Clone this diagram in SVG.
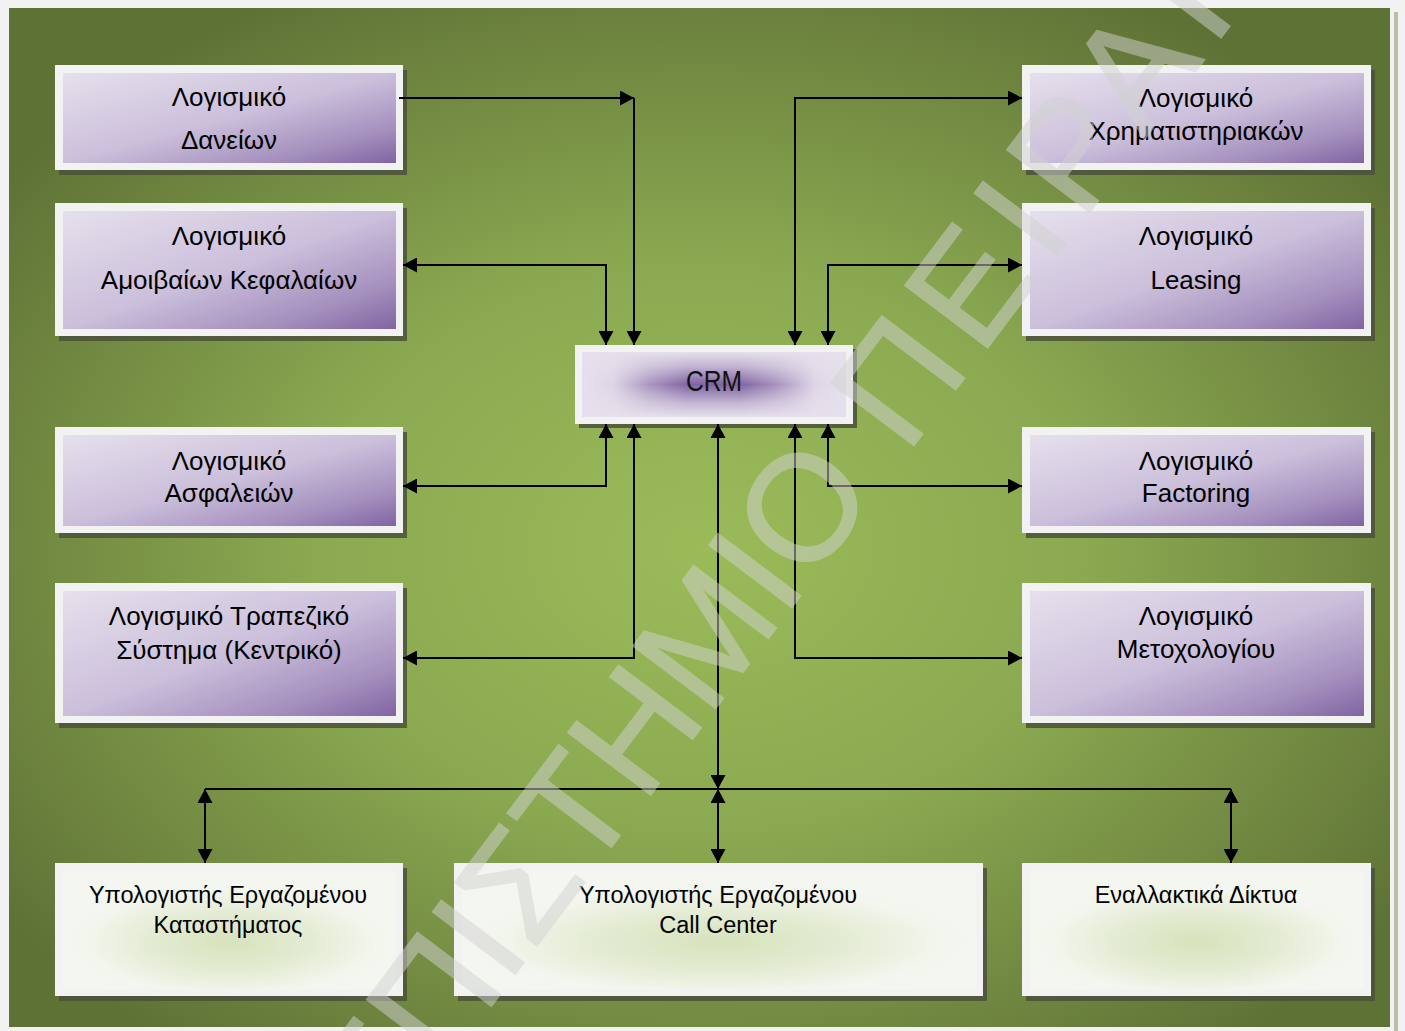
<svg xmlns="http://www.w3.org/2000/svg" width="1405" height="1031" viewBox="0 0 1405 1031">
  <style>
    .lbl{font-family:"Liberation Sans",Arial,sans-serif;font-size:26px;fill:#000;text-anchor:middle}
    .sm{font-size:23.5px}
    .crm{font-family:"Liberation Sans Narrow","Liberation Sans",Arial,sans-serif;font-size:30px;fill:#111;text-anchor:middle}
    .frame{fill:#f2f2f2}
    .shadow{fill:#4b5139;opacity:.85}
    .conn{fill:none;stroke:#000;stroke-width:2}
    .both{marker-start:url(#arr);marker-end:url(#arr)}
    .end{marker-end:url(#arr)}
    .wm{font-family:"Liberation Sans",Arial,sans-serif;font-size:150px;fill:#d2d2d2;stroke:#d2d2d2;stroke-width:2}
  </style>
  <defs>
    <radialGradient id="gPanel" cx="0.5" cy="0.53" r="0.62">
      <stop offset="0" stop-color="#9bbb59"/>
      <stop offset="0.45" stop-color="#8ba951"/>
      <stop offset="1" stop-color="#5f7236"/>
    </radialGradient>
    <linearGradient id="gPurple" x1="0" y1="0" x2="1" y2="1">
      <stop offset="0" stop-color="#e6e0ec"/>
      <stop offset="0.5" stop-color="#cbbfdb"/>
      <stop offset="0.8" stop-color="#a590be"/>
      <stop offset="1" stop-color="#8064a2"/>
    </linearGradient>
    <linearGradient id="gCrmH" x1="0" y1="0" x2="1" y2="0">
      <stop offset="0" stop-color="#e6e0ec"/>
      <stop offset="0.12" stop-color="#ddd5e6"/>
      <stop offset="0.26" stop-color="#a994c0"/>
      <stop offset="0.4" stop-color="#8064a2"/>
      <stop offset="0.6" stop-color="#8064a2"/>
      <stop offset="0.74" stop-color="#a994c0"/>
      <stop offset="0.88" stop-color="#ddd5e6"/>
      <stop offset="1" stop-color="#e6e0ec"/>
    </linearGradient>
    <linearGradient id="gCrmV" x1="0" y1="0" x2="0" y2="1">
      <stop offset="0" stop-color="#e6e0ec" stop-opacity="1"/>
      <stop offset="0.22" stop-color="#e6e0ec" stop-opacity="0.65"/>
      <stop offset="0.5" stop-color="#e6e0ec" stop-opacity="0"/>
      <stop offset="0.78" stop-color="#e6e0ec" stop-opacity="0.65"/>
      <stop offset="1" stop-color="#e6e0ec" stop-opacity="1"/>
    </linearGradient>
    <radialGradient id="gLight" cx="0.5" cy="0.6" r="0.52">
      <stop offset="0" stop-color="#d6e3bc"/>
      <stop offset="0.45" stop-color="#e3ebd2"/>
      <stop offset="0.85" stop-color="#f3f6ee"/>
      <stop offset="1" stop-color="#f4f7f0"/>
    </radialGradient>
    <marker id="arr" viewBox="0 0 14 15" refX="14" refY="7.5" markerWidth="14" markerHeight="15" markerUnits="userSpaceOnUse" orient="auto-start-reverse">
      <path d="M0,0 L14,7.5 L0,15 z" fill="#000"/>
    </marker>
  </defs>

  <!-- page and green panel -->
  <rect x="0" y="0" width="1405" height="1031" fill="#f2f2f2"/>
  <rect x="1394" y="12" width="4" height="1019" fill="#b8c0aa"/>
  <rect x="9" y="8" width="1381" height="1019" fill="url(#gPanel)"/>

  <!-- left column -->
  <g id="n-daneion">
    <rect class="shadow" x="59" y="70" width="348" height="105"/>
    <rect class="frame" x="55" y="65" width="348" height="105"/>
    <rect x="63" y="73" width="333" height="90" fill="url(#gPurple)"/>
    <text class="lbl" x="229" y="106">Λογισμικό</text>
    <text class="lbl" x="229" y="149">Δανείων</text>
  </g>
  <g id="n-amoivaia">
    <rect class="shadow" x="59" y="208" width="348" height="133"/>
    <rect class="frame" x="55" y="203" width="348" height="133"/>
    <rect x="63" y="211" width="333" height="118" fill="url(#gPurple)"/>
    <text class="lbl" x="229" y="245">Λογισμικό</text>
    <text class="lbl" x="229" y="289">Αμοιβαίων Κεφαλαίων</text>
  </g>
  <g id="n-asfaleies">
    <rect class="shadow" x="59" y="432" width="348" height="106"/>
    <rect class="frame" x="55" y="427" width="348" height="106"/>
    <rect x="63" y="435" width="333" height="91" fill="url(#gPurple)"/>
    <text class="lbl" x="229" y="470">Λογισμικό</text>
    <text class="lbl" x="229" y="502">Ασφαλειών</text>
  </g>
  <g id="n-trapeziko">
    <rect class="shadow" x="59" y="588" width="348" height="140"/>
    <rect class="frame" x="55" y="583" width="348" height="140"/>
    <rect x="63" y="591" width="333" height="125" fill="url(#gPurple)"/>
    <text class="lbl" x="229" y="625">Λογισμικό Τραπεζικό</text>
    <text class="lbl" x="229" y="659">Σύστημα (Κεντρικό)</text>
  </g>

  <!-- right column -->
  <g id="n-xrimatistiriakon">
    <rect class="shadow" x="1026" y="70" width="349" height="105"/>
    <rect class="frame" x="1022" y="65" width="349" height="105"/>
    <rect x="1030" y="73" width="334" height="90" fill="url(#gPurple)"/>
    <text class="lbl" x="1196" y="107">Λογισμικό</text>
    <text class="lbl" x="1196" y="140">Χρηματιστηριακών</text>
  </g>
  <g id="n-leasing">
    <rect class="shadow" x="1026" y="208" width="349" height="133"/>
    <rect class="frame" x="1022" y="203" width="349" height="133"/>
    <rect x="1030" y="211" width="334" height="118" fill="url(#gPurple)"/>
    <text class="lbl" x="1196" y="245">Λογισμικό</text>
    <text class="lbl" x="1196" y="289">Leasing</text>
  </g>
  <g id="n-factoring">
    <rect class="shadow" x="1026" y="432" width="349" height="106"/>
    <rect class="frame" x="1022" y="427" width="349" height="106"/>
    <rect x="1030" y="435" width="334" height="91" fill="url(#gPurple)"/>
    <text class="lbl" x="1196" y="470">Λογισμικό</text>
    <text class="lbl" x="1196" y="502">Factoring</text>
  </g>
  <g id="n-metoxologio">
    <rect class="shadow" x="1026" y="588" width="349" height="140"/>
    <rect class="frame" x="1022" y="583" width="349" height="140"/>
    <rect x="1030" y="591" width="334" height="125" fill="url(#gPurple)"/>
    <text class="lbl" x="1196" y="625">Λογισμικό</text>
    <text class="lbl" x="1196" y="658">Μετοχολογίου</text>
  </g>

  <!-- central CRM -->
  <g id="n-crm">
    <rect class="shadow" x="579" y="349" width="278" height="79"/>
    <rect class="frame" x="575" y="345" width="278" height="79"/>
    <rect x="582" y="352" width="264" height="65" fill="url(#gCrmH)"/>
    <rect x="582" y="352" width="264" height="65" fill="url(#gCrmV)"/>
    <text class="crm" x="714" y="391" textLength="56" lengthAdjust="spacingAndGlyphs">CRM</text>
  </g>

  <!-- bottom row -->
  <g id="n-katastima">
    <rect class="shadow" x="59" y="868" width="348" height="133"/>
    <rect class="frame" x="55" y="863" width="348" height="133"/>
    <rect x="63" y="871" width="333" height="118" fill="url(#gLight)"/>
    <text class="lbl sm" x="228" y="903">Υπολογιστής Εργαζομένου</text>
    <text class="lbl sm" x="228" y="933">Καταστήματος</text>
  </g>
  <g id="n-callcenter">
    <rect class="shadow" x="458" y="868" width="529" height="133"/>
    <rect class="frame" x="454" y="863" width="529" height="133"/>
    <rect x="462" y="871" width="514" height="118" fill="url(#gLight)"/>
    <text class="lbl sm" x="718" y="903">Υπολογιστής Εργαζομένου</text>
    <text class="lbl sm" x="718" y="933">Call Center</text>
  </g>
  <g id="n-diktya">
    <rect class="shadow" x="1026" y="868" width="349" height="133"/>
    <rect class="frame" x="1022" y="863" width="349" height="133"/>
    <rect x="1030" y="871" width="334" height="118" fill="url(#gLight)"/>
    <text class="lbl sm" x="1196" y="903">Εναλλακτικά Δίκτυα</text>
  </g>

  <!-- connectors -->
  <g id="connectors">
    <path class="conn end" d="M399,98 H634"/>
    <path class="conn end" d="M634,98 V345"/>
    <path class="conn both" d="M606,345 V265 H403"/>
    <path class="conn both" d="M795,345 V98 H1022"/>
    <path class="conn both" d="M828,345 V265 H1022"/>
    <path class="conn both" d="M606,424 V486 H403"/>
    <path class="conn both" d="M634,424 V658 H403"/>
    <path class="conn both" d="M718,424 V789"/>
    <path class="conn both" d="M828,424 V486 H1022"/>
    <path class="conn both" d="M795,424 V658 H1022"/>
    <path class="conn" d="M205,789 H1231"/>
    <path class="conn both" d="M205,789 V863"/>
    <path class="conn both" d="M718,789 V863"/>
    <path class="conn both" d="M1231,789 V863"/>
  </g>

  <!-- diagonal watermark lettering -->
  <g id="watermark" opacity="0.5" transform="translate(800,505) rotate(-53)">
    <text class="wm" x="58" y="55" text-anchor="end">ΠΑΝΕΠΙΣΤΗΜΙΟ</text>
    <text class="wm" x="104" y="55" letter-spacing="14">ΠΕΙΡΑΙΩΣ</text>
  </g>
</svg>
